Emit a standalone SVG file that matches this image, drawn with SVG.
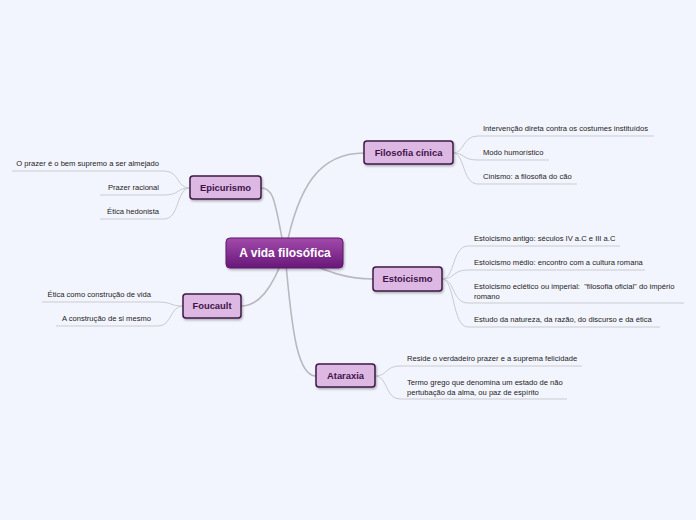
<svg xmlns="http://www.w3.org/2000/svg" width="696" height="520" viewBox="0 0 696 520">
<defs>
<linearGradient id="cg" x1="0" y1="0" x2="0" y2="1">
<stop offset="0" stop-color="#a24aab"/>
<stop offset="1" stop-color="#681879"/>
</linearGradient>
<filter id="sh" x="-20%" y="-30%" width="140%" height="160%">
<feDropShadow dx="1" dy="1.5" stdDeviation="1" flood-color="#000" flood-opacity="0.3"/>
</filter>
</defs>
<style>
.main{fill:#dcb8e3;stroke:#3e1846;stroke-width:1.5}
.mt{font-family:"Liberation Sans",Arial,sans-serif;font-weight:bold;font-size:9.4px;fill:#3f1248;text-anchor:middle}
.ct{font-family:"Liberation Sans",Arial,sans-serif;font-size:7.6px;fill:#222;white-space:pre}
.r{text-anchor:end}
.big{fill:none;stroke:#b9b9bf;stroke-width:1.6}
.sm{fill:none;stroke:#c9cad0;stroke-width:1}
</style>
<rect width="696" height="520" fill="#f3f5fe"/>
<g id="connectors">
<path class="big" d="M285,253 C298,185 320,153 364,153"/>
<path class="big" d="M285,253 C275,205 275,188 261,188"/>
<path class="big" d="M285,253 C320,268 340,279 373,279"/>
<path class="big" d="M285,253 C272,290 258,306 241,306"/>
<path class="big" d="M285,253 C292,335 298,376 316,376"/>
<path class="sm" d="M453,153 C465,153 462,136 478,136 L654,136"/>
<path class="sm" d="M453,153 C465,153 462,160 478,160 L549,160"/>
<path class="sm" d="M453,153 C465,153 462,184 478,184 L577,184"/>
<path class="sm" d="M442,279 C455,279 452,246 468,246 L620,246"/>
<path class="sm" d="M442,279 C455,279 452,270 468,270 L645,270"/>
<path class="sm" d="M442,279 C455,279 452,303 468,303 L684,303"/>
<path class="sm" d="M442,279 C455,279 452,327 468,327 L660,327"/>
<path class="sm" d="M375,376 C388,376 385,366 400,366 L582,366"/>
<path class="sm" d="M375,376 C388,376 385,399 400,399 L567,399"/>
<path class="sm" d="M190,188 C176,188 180,171 164,171 L12,171"/>
<path class="sm" d="M190,188 C176,188 180,195 164,195 L100,195"/>
<path class="sm" d="M190,188 C176,188 180,219 164,219 L100,219"/>
<path class="sm" d="M183,306 C170,306 172,302 158,302 L42,302"/>
<path class="sm" d="M183,306 C170,306 172,326 158,326 L56,326"/>
</g>
<g id="central">
<rect x="226" y="238" width="117" height="30" rx="4" fill="url(#cg)" stroke="#5c1a6c" stroke-width="1" filter="url(#sh)"/>
<text x="285" y="257" font-family="Liberation Sans,Arial,sans-serif" font-weight="bold" font-size="12px" fill="#fff" text-anchor="middle">A vida filosófica</text>
</g>
<g id="filosofia-cinica">
<rect class="main" x="364" y="141" width="89" height="23" rx="3" filter="url(#sh)"/>
<text class="mt" x="408.5" y="156">Filosofia cínica</text>
<text class="ct" x="483" y="131">Intervenção direta contra os costumes instituídos</text>
<text class="ct" x="483" y="155">Modo humorístico</text>
<text class="ct" x="483" y="179">Cinismo: a filosofia do cão</text>
</g>
<g id="epicurismo">
<rect class="main" x="190" y="176" width="71" height="23" rx="3" filter="url(#sh)"/>
<text class="mt" x="225.5" y="191">Epicurismo</text>
<text class="ct r" x="159" y="166">O prazer é o bem supremo a ser almejado</text>
<text class="ct r" x="159" y="190">Prazer racional</text>
<text class="ct r" x="159" y="214">Ética hedonista</text>
</g>
<g id="estoicismo">
<rect class="main" x="373" y="267" width="69" height="24" rx="3" filter="url(#sh)"/>
<text class="mt" x="407.5" y="282">Estoicismo</text>
<text class="ct" x="474" y="241">Estoicismo antigo: séculos IV a.C e III a.C</text>
<text class="ct" x="474" y="265">Estoicismo médio: encontro com a cultura romana</text>
<text class="ct" x="474" y="289" xml:space="preserve">Estoicismo eclético ou imperial:  "filosofia oficial" do império</text>
<text class="ct" x="474" y="299">romano</text>
<text class="ct" x="474" y="322">Estudo da natureza, da razão, do discurso e da ética</text>
</g>
<g id="foucault">
<rect class="main" x="183" y="294" width="58" height="24" rx="3" filter="url(#sh)"/>
<text class="mt" x="212" y="309">Foucault</text>
<text class="ct r" x="151" y="297">Ética como construção de vida</text>
<text class="ct r" x="151" y="321">A construção de si mesmo</text>
</g>
<g id="ataraxia">
<rect class="main" x="316" y="364" width="59" height="23" rx="3" filter="url(#sh)"/>
<text class="mt" x="345.5" y="379">Ataraxia</text>
<text class="ct" x="407" y="361">Reside o verdadeiro prazer e a suprema felicidade</text>
<text class="ct" x="407" y="385">Termo grego que denomina um estado de não</text>
<text class="ct" x="407" y="395">pertubação da alma, ou paz de espírito</text>
</g>
</svg>
